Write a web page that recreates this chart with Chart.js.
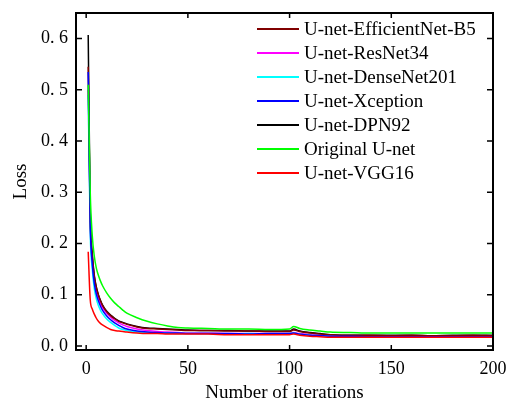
<!DOCTYPE html>
<html>
<head>
<meta charset="utf-8">
<script src="https://cdn.jsdelivr.net/npm/chart.js@4.4.1/dist/chart.umd.min.js"></script>
<style>
  html, body { margin: 0; padding: 0; background: #fff; }
  canvas { display: block; }
</style>
</head>
<body>
<canvas id="graficaLoss" width="507" height="403"></canvas>
<script>
// Iteraciones muestreadas (eje x)
const iteraciones = [1, 2, 3, 4, 5, 6, 7, 8, 10, 12, 14, 16, 18, 20, 25, 30, 35, 40, 45, 50,
                     60, 70, 80, 90, 100, 102, 105, 110, 115, 120, 130, 140, 150, 160, 170, 180, 190, 200];

const nombres = ['U-net-EfficientNet-B5', 'U-net-ResNet34', 'U-net-DenseNet201', 'U-net-Xception',
                 'U-net-DPN92', 'Original U-net', 'U-net-VGG16'];

const lossEfficientNet = [0.545, 0.25, 0.175, 0.135, 0.113, 0.099, 0.088, 0.079, 0.067, 0.059, 0.053, 0.048, 0.045, 0.042, 0.037, 0.034, 0.033, 0.032, 0.031, 0.030,
                          0.030, 0.029, 0.029, 0.028, 0.028, 0.031, 0.028, 0.025, 0.023, 0.022, 0.021, 0.021, 0.020, 0.021, 0.020, 0.020, 0.021, 0.020];
const lossResNet34 = [0.50, 0.235, 0.165, 0.127, 0.106, 0.093, 0.083, 0.075, 0.064, 0.056, 0.050, 0.045, 0.041, 0.038, 0.033, 0.030, 0.028, 0.027, 0.026, 0.025,
                      0.025, 0.024, 0.024, 0.024, 0.024, 0.026, 0.024, 0.022, 0.021, 0.020, 0.019, 0.019, 0.019, 0.019, 0.019, 0.019, 0.019, 0.019];
const lossDenseNet201 = [0.49, 0.22, 0.15, 0.112, 0.092, 0.079, 0.070, 0.063, 0.053, 0.046, 0.040, 0.035, 0.032, 0.030, 0.027, 0.026, 0.025, 0.025, 0.024, 0.024,
                         0.024, 0.023, 0.024, 0.023, 0.024, 0.025, 0.023, 0.021, 0.020, 0.019, 0.019, 0.019, 0.019, 0.019, 0.019, 0.019, 0.019, 0.019];
const lossXception = [0.535, 0.24, 0.16, 0.122, 0.101, 0.088, 0.078, 0.070, 0.059, 0.051, 0.045, 0.040, 0.036, 0.033, 0.029, 0.027, 0.026, 0.025, 0.025, 0.024,
                      0.024, 0.024, 0.023, 0.024, 0.024, 0.025, 0.023, 0.021, 0.020, 0.019, 0.019, 0.018, 0.018, 0.018, 0.018, 0.018, 0.018, 0.018];
const lossDPN92 = [0.607, 0.26, 0.18, 0.138, 0.115, 0.100, 0.089, 0.080, 0.068, 0.060, 0.054, 0.049, 0.046, 0.043, 0.038, 0.035, 0.034, 0.033, 0.032, 0.031,
                   0.030, 0.030, 0.029, 0.029, 0.029, 0.033, 0.029, 0.026, 0.024, 0.022, 0.021, 0.021, 0.021, 0.021, 0.020, 0.021, 0.021, 0.021];
const lossOriginal = [0.51, 0.30, 0.215, 0.175, 0.152, 0.138, 0.127, 0.118, 0.104, 0.093, 0.084, 0.077, 0.070, 0.064, 0.055, 0.048, 0.043, 0.039, 0.036, 0.035,
                      0.034, 0.033, 0.033, 0.032, 0.033, 0.038, 0.034, 0.031, 0.029, 0.027, 0.026, 0.025, 0.025, 0.025, 0.025, 0.025, 0.025, 0.025];
const lossVGG16 = [0.184, 0.09, 0.072, 0.062, 0.054, 0.048, 0.044, 0.041, 0.036, 0.032, 0.030, 0.029, 0.028, 0.027, 0.025, 0.024, 0.024, 0.023, 0.023, 0.023,
                   0.023, 0.022, 0.022, 0.022, 0.022, 0.023, 0.021, 0.019, 0.018, 0.017, 0.017, 0.017, 0.017, 0.017, 0.017, 0.017, 0.017, 0.017];

const ticksX = [0, 50, 100, 150, 200];
const ticksY = [0.0, 0.1, 0.2, 0.3, 0.4, 0.5, 0.6];

const series = [lossEfficientNet, lossResNet34, lossDenseNet201, lossXception, lossDPN92, lossOriginal, lossVGG16];
const colores = ['#800000', '#ff00ff', '#00ffff', '#0000ff', '#000000', '#00ff00', '#ff0000'];
const orden = [3, 5, 4, 2, 6, 1, 0]; // quien queda encima

const fuente = "'Liberation Serif', 'Times New Roman', serif";

const datasets = series.map((valores, i) => ({
    label: nombres[i],
    data: valores.map((v, j) => ({ x: iteraciones[j], y: v })),
    borderColor: colores[i],
    backgroundColor: colores[i],
    borderWidth: 1.5,
    pointRadius: 0,
    cubicInterpolationMode: 'monotone',
    order: orden[i]
}));

// marco, ticks hacia dentro y leyenda
const marcoPlugin = {
    id: 'marco',
    afterDatasetsDraw(chart) {
        const ctx = chart.ctx;
        const a = chart.chartArea;
        const sx = chart.scales.x, sy = chart.scales.y;
        ctx.save();
        ctx.strokeStyle = '#000';
        ctx.lineWidth = 1.5;
        ctx.beginPath();
        ticksX.forEach(t => {
            const px = sx.getPixelForValue(t);
            ctx.moveTo(px, a.bottom); ctx.lineTo(px, a.bottom - 5);
            ctx.moveTo(px, a.top); ctx.lineTo(px, a.top + 5);
        });
        ticksY.forEach(t => {
            const py = sy.getPixelForValue(t);
            ctx.moveTo(a.left, py); ctx.lineTo(a.left + 6, py);
            ctx.moveTo(a.right, py); ctx.lineTo(a.right - 6, py);
        });
        ctx.stroke();
        ctx.lineWidth = 2;
        ctx.strokeRect(a.left, a.top, a.right - a.left, a.bottom - a.top);

        // leyenda
        ctx.font = '19px ' + fuente;
        ctx.textBaseline = 'middle';
        ctx.fillStyle = '#000';
        chart.data.datasets.forEach((ds, i) => {
            const y = 29 + i * 24;
            ctx.strokeStyle = ds.borderColor;
            ctx.lineWidth = 2;
            ctx.beginPath();
            ctx.moveTo(257, y); ctx.lineTo(299, y);
            ctx.stroke();
            ctx.fillText(ds.label, 304, y + 1);
        });
        ctx.restore();
    }
};

const ctx = document.getElementById('graficaLoss').getContext('2d');
new Chart(ctx, {
    type: 'line',
    data: { datasets: datasets },
    options: {
        responsive: false,
        animation: false,
        layout: { padding: { top: 13, right: 14, left: 0, bottom: 0 } },
        plugins: {
            legend: { display: false },
            tooltip: { enabled: false }
        },
        scales: {
            x: {
                type: 'linear',
                min: -5,
                max: 200,
                afterBuildTicks: s => { s.ticks = ticksX.map(v => ({ value: v })); },
                afterFit: s => { s.height = 53; s.paddingLeft = 0; s.paddingRight = 0; },
                grid: { display: false, drawTicks: false },
                border: { display: false },
                ticks: { color: '#000', padding: 8, maxRotation: 0, font: { family: fuente, size: 18 } },
                title: {
                    display: true, text: 'Number of iterations', color: '#000',
                    padding: { top: 0, bottom: 0 },
                    font: { family: fuente, size: 19, lineHeight: 1 }
                }
            },
            y: {
                min: -0.008,
                max: 0.65,
                afterBuildTicks: s => { s.ticks = ticksY.map(v => ({ value: v })); },
                afterFit: s => { s.width = 76; s.paddingTop = 0; s.paddingBottom = 0; },
                grid: { display: false, drawTicks: false },
                border: { display: false },
                ticks: {
                    color: '#000', padding: 8,
                    font: { family: fuente, size: 18 },
                    callback: v => v.toFixed(1).replace('.', '. ')
                },
                title: {
                    display: true, text: 'Loss', color: '#000',
                    padding: { top: 12, bottom: 0 },
                    font: { family: fuente, size: 19, lineHeight: 1 }
                }
            }
        }
    },
    plugins: [marcoPlugin]
});
</script>
</body>
</html>
